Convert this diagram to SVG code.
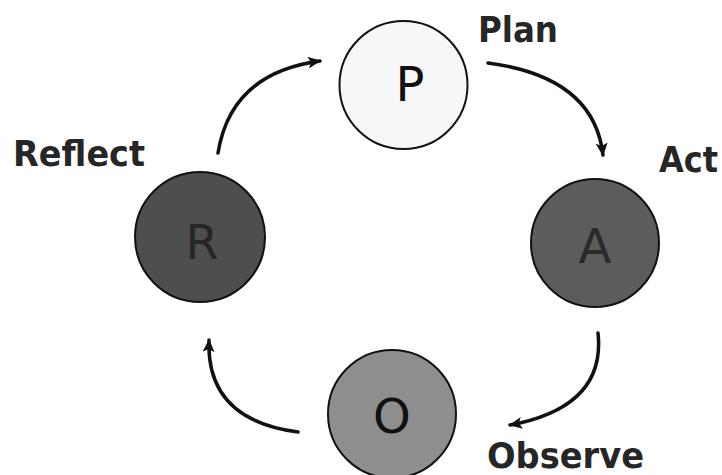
<svg xmlns="http://www.w3.org/2000/svg" width="722" height="475" viewBox="0 0 722 475">
<style>
.node{stroke:#111;stroke-width:2}
.letter{font-family:"DejaVu Sans","Liberation Sans",sans-serif;font-size:48px;text-anchor:middle}
.label{font-family:"DejaVu Sans Condensed","DejaVu Sans",sans-serif;font-weight:bold;font-size:36px;fill:#262626}
.conn{fill:none;stroke:#111;stroke-width:3.5;stroke-linecap:round}
</style>
<defs>
<marker id="ah" markerUnits="userSpaceOnUse" markerWidth="16" markerHeight="14" refX="12" refY="6" orient="auto">
<path d="M0,0 L13,6 L0,12 L3,6 Z" fill="#111"/>
</marker>
</defs>
<rect width="722" height="475" fill="#fff"/>
<g id="connectors">
<path class="conn" d="M218,153 Q231,73 320,61" marker-end="url(#ah)"/>
<path class="conn" d="M488,63 Q594,77 603,155" marker-end="url(#ah)"/>
<path class="conn" d="M598,333 Q606,407 510,425" marker-end="url(#ah)"/>
<path class="conn" d="M298,432 Q206,420 209,340" marker-end="url(#ah)"/>
</g>
<g id="node-P">
<circle class="node" cx="403.5" cy="85" r="64" fill="#f7f7f7"/>
<text class="letter" x="410" y="101" fill="#111">P</text>
</g>
<g id="node-A">
<circle class="node" cx="595" cy="243" r="64" fill="#5c5c5c"/>
<text class="letter" x="595" y="263" fill="#2a2a2a">A</text>
</g>
<g id="node-R">
<circle class="node" cx="200" cy="237" r="65" fill="#4e4e4e"/>
<text class="letter" x="202" y="259" fill="#262626">R</text>
</g>
<g id="node-O">
<circle class="node" cx="392" cy="414" r="64" fill="#8e8e8e"/>
<text class="letter" x="392" y="433" fill="#111">O</text>
</g>
<g id="labels">
<text class="label" x="478" y="42" textLength="80" lengthAdjust="spacingAndGlyphs">Plan</text>
<text class="label" x="659" y="172" textLength="59" lengthAdjust="spacingAndGlyphs">Act</text>
<text class="label" x="13" y="166" textLength="132" lengthAdjust="spacingAndGlyphs">Reflect</text>
<text class="label" x="487" y="468" textLength="157" lengthAdjust="spacingAndGlyphs">Observe</text>
</g>
</svg>
